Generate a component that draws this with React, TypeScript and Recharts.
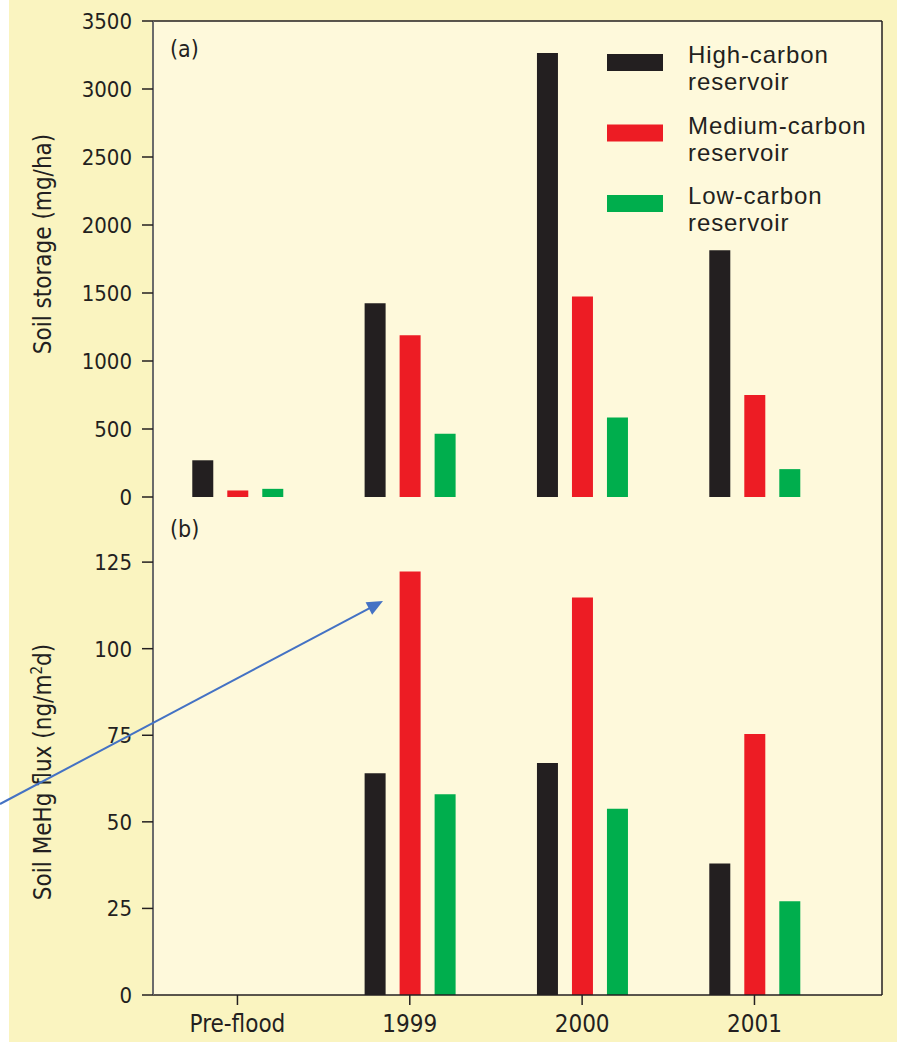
import React from 'react';
import { BarChart, Bar, XAxis, YAxis, CartesianGrid, ReferenceLine, Legend } from 'recharts';

// ---------- data ----------
const categories = ['Pre-flood', '1999', '2000', '2001'];
const seriesNames = ['High-carbon reservoir', 'Medium-carbon reservoir', 'Low-carbon reservoir'];
const seriesColors = ['#231F20', '#ED1C24', '#00AE4D'];

// (a) Soil storage (mg/ha)
const storageHigh = [270, 1425, 3265, 1815];
const storageMedium = [48, 1190, 1475, 750];
const storageLow = [60, 465, 585, 205];

// (b) Soil MeHg flux (ng/m2d)
const fluxHigh = [null, 64, 67, 38];
const fluxMedium = [null, 122.3, 114.8, 75.4];
const fluxLow = [null, 58, 53.8, 27.1];

const storageTicks = [0, 500, 1000, 1500, 2000, 2500, 3000, 3500];
const fluxTicks = [0, 25, 50, 75, 100, 125];
const positionTicks = [0, 1, 2, 3];

const storageRows = categories.map((c, i) => ({
  pos: i, category: c, high: storageHigh[i], medium: storageMedium[i], low: storageLow[i],
}));
const fluxRows = categories.map((c, i) => ({
  pos: i, category: c, high: fluxHigh[i], medium: fluxMedium[i], low: fluxLow[i],
}));

// ---------- styling ----------
const INK = '#231F20';
const FONT = "'DejaVu Sans Condensed', 'Liberation Sans', sans-serif";
const FONT_WIDE = "'Liberation Sans', Arial, sans-serif";
const OUTER_BG = '#FAF4C0';
const PLOT_BG = '#FEF9DB';
const X_DOMAIN: [number, number] = [-0.49, 3.74];
const W = 897;

const YTick = (props: any) => {
  const { x, y, payload } = props;
  return (
    <text x={x} y={y} dy="0.36em" textAnchor="end" fill={INK} fontFamily={FONT} fontSize={22}>
      {payload.value}
    </text>
  );
};

const XTick = (props: any) => {
  const { x, y, payload } = props;
  return (
    <text x={x} y={y} dy="0.73em" textAnchor="middle" fill={INK} fontFamily={FONT} fontSize={24}>
      {categories[payload.value]}
    </text>
  );
};

const renderLegend = (props: any) => {
  const payload = [...(props.payload || [])].sort(
    (a: any, b: any) => seriesNames.indexOf(String(a.value)) - seriesNames.indexOf(String(b.value))
  );
  return (
    <svg width={290} height={215} style={{ display: 'block', overflow: 'visible' }}>
      {payload.map((entry: any, i: number) => {
        const words = String(entry.value).split(' ');
        const base = 33 + i * 70.5;
        return (
          <g key={i}>
            <rect x={7} y={base - 9} width={56} height={17} fill={entry.color} />
            <text x={88} y={base} fill={INK} fontFamily={FONT_WIDE} fontSize={24}
              style={{ letterSpacing: '0.9px' }}>{words[0]}</text>
            <text x={88} y={base + 27} fill={INK} fontFamily={FONT_WIDE} fontSize={24}
              style={{ letterSpacing: '0.9px' }}>{words[1]}</text>
          </g>
        );
      })}
    </svg>
  );
};

const StorageTitle = () => (
  <text x={51} y={244} transform="rotate(-90 51 244)" textAnchor="middle" fill={INK}
    fontFamily={FONT} fontSize={24}>
    Soil storage (mg/ha)
  </text>
);

const FluxTitle = () => (
  <text x={51} y={275} transform="rotate(-90 51 275)" textAnchor="middle" fill={INK}
    fontFamily={FONT} fontSize={24}>
    Soil MeHg flux (ng/m<tspan fontSize={15} dy={-9}>2</tspan><tspan dy={9}>d)</tspan>
  </text>
);

// arrow annotation
const ARROW_START = { x: 0, y: 804 };
const ARROW_END = { x: 383, y: 601 };

const Arrow = () => {
  const dx = ARROW_END.x - ARROW_START.x;
  const dy = ARROW_END.y - ARROW_START.y;
  const len = Math.sqrt(dx * dx + dy * dy);
  const ux = dx / len, uy = dy / len;
  const hl = 16, hw = 7;
  const bx = ARROW_END.x - ux * hl, by = ARROW_END.y - uy * hl;
  const px = -uy, py = ux;
  const pts = `${ARROW_END.x},${ARROW_END.y} ${bx + px * hw},${by + py * hw} ${bx - px * hw},${by - py * hw}`;
  return (
    <g>
      <line x1={ARROW_START.x} y1={ARROW_START.y} x2={bx + ux * 2} y2={by + uy * 2} stroke="#4472C4" strokeWidth={2} />
      <polygon points={pts} fill="#4472C4" />
    </g>
  );
};

export default function App() {
  return (
    <div style={{ position: 'absolute', left: 0, top: 0, width: W, height: 1042, background: '#FFFFFF', overflow: 'hidden' }}>
      <div style={{ position: 'absolute', left: 9, top: 0, width: W - 9, height: 1042, background: OUTER_BG }} />

      {/* panel (b) */}
      <div style={{ position: 'absolute', left: 0, top: 497 }}>
        <BarChart width={W} height={545} data={fluxRows} barSize={21} barGap={14}
          margin={{ top: 0, right: 15, bottom: 0, left: 0 }}>
          <CartesianGrid horizontal={false} vertical={false} fill={PLOT_BG} />
          <XAxis dataKey="pos" type="number" domain={X_DOMAIN} ticks={positionTicks} height={47}
            axisLine={{ stroke: INK, strokeWidth: 1.5 }} tickLine={{ stroke: INK, strokeWidth: 1.5 }}
            tickSize={10} tickMargin={9} tick={<XTick />} allowDataOverflow />
          <YAxis domain={[0, 143.8]} ticks={fluxTicks} width={153}
            axisLine={{ stroke: '#6B6B6B', strokeWidth: 2 }} tickLine={{ stroke: INK, strokeWidth: 1.5 }}
            tickSize={11} tickMargin={10} tick={<YTick />} allowDataOverflow
            label={{ content: () => <FluxTitle /> }} />
          <ReferenceLine x={X_DOMAIN[1]} stroke={INK} strokeWidth={1.5} />
          <Bar dataKey="high" name={seriesNames[0]} fill={seriesColors[0]} isAnimationActive={false} />
          <Bar dataKey="medium" name={seriesNames[1]} fill={seriesColors[1]} isAnimationActive={false} />
          <Bar dataKey="low" name={seriesNames[2]} fill={seriesColors[2]} isAnimationActive={false} />
        </BarChart>
      </div>

      {/* panel (a) */}
      <div style={{ position: 'absolute', left: 0, top: 0 }}>
        <BarChart width={W} height={520} data={storageRows} barSize={21} barGap={14}
          margin={{ top: 21, right: 15, bottom: 23, left: 0 }}>
          <CartesianGrid horizontal={false} vertical={false} fill={PLOT_BG} />
          <XAxis dataKey="pos" type="number" domain={X_DOMAIN} ticks={positionTicks} height={0}
            axisLine={{ stroke: INK, strokeWidth: 1.5 }} tickLine={false} tick={false} allowDataOverflow />
          <YAxis domain={[0, 3500]} ticks={storageTicks} width={153}
            axisLine={{ stroke: '#6B6B6B', strokeWidth: 2 }} tickLine={{ stroke: INK, strokeWidth: 1.5 }}
            tickSize={11} tickMargin={10} tick={<YTick />} allowDataOverflow
            label={{ content: () => <StorageTitle /> }} />
          <ReferenceLine y={3500} stroke={INK} strokeWidth={1.5} />
          <ReferenceLine x={X_DOMAIN[1]} stroke={INK} strokeWidth={1.5} />
          <Legend layout="vertical" align="center" verticalAlign="middle" content={renderLegend}
            wrapperStyle={{ left: 600, top: 30, width: 290, height: 215 }} />
          <Bar dataKey="high" name={seriesNames[0]} fill={seriesColors[0]} isAnimationActive={false} />
          <Bar dataKey="medium" name={seriesNames[1]} fill={seriesColors[1]} isAnimationActive={false} />
          <Bar dataKey="low" name={seriesNames[2]} fill={seriesColors[2]} isAnimationActive={false} />
        </BarChart>
      </div>

      {/* panel labels and arrow annotation */}
      <svg width={W} height={1042} style={{ position: 'absolute', left: 0, top: 0, pointerEvents: 'none' }}>
        <text x={170} y={57} fill={INK} fontFamily={FONT} fontSize={23}>(a)</text>
        <text x={170} y={537} fill={INK} fontFamily={FONT} fontSize={23}>(b)</text>
        <Arrow />
      </svg>
    </div>
  );
}
